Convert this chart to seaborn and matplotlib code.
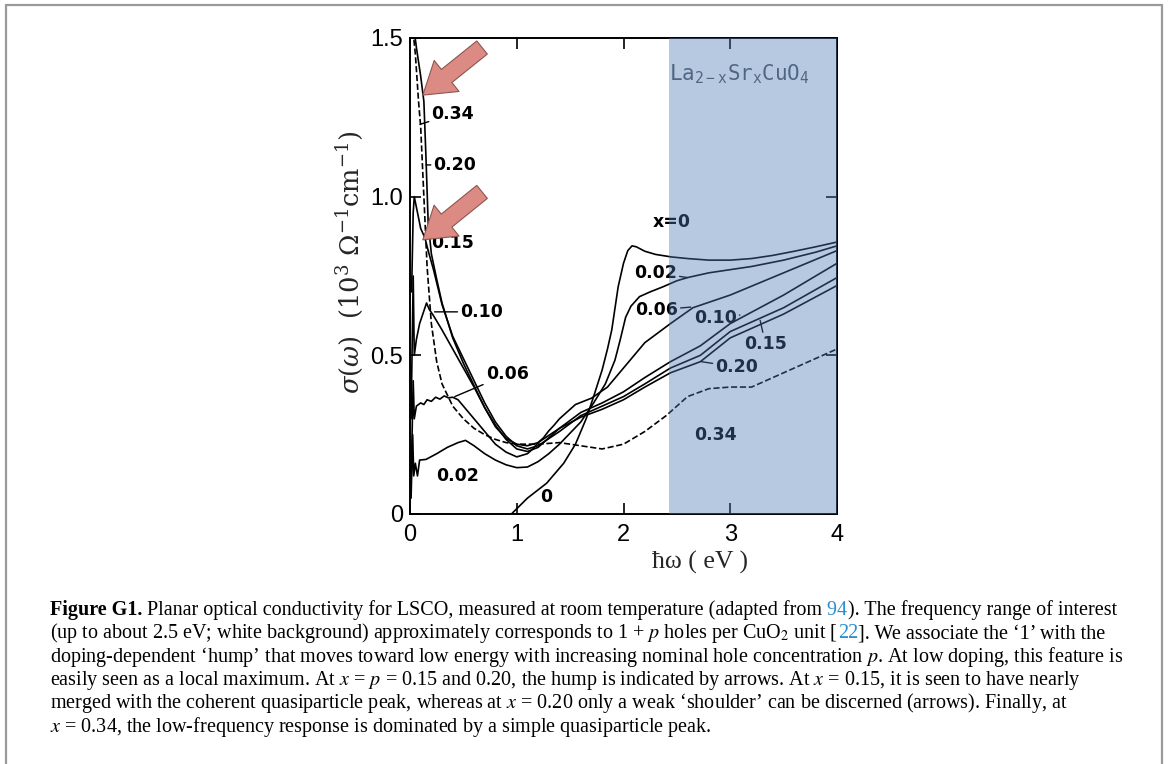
import numpy as np
import pandas as pd
import matplotlib
matplotlib.use("Agg")
import matplotlib.pyplot as plt
from matplotlib.lines import Line2D
import seaborn as sns

# ---- optical conductivity sigma(omega) of La2-xSrxCuO4, units 10^3 Ohm^-1 cm^-1 ----
E_x000 = [0.95, 1.10, 1.28, 1.44, 1.55, 1.65, 1.72, 1.80, 1.85, 1.89, 1.95, 2.00, 2.04, 2.08,
          2.12, 2.20, 2.30, 2.45, 2.60, 2.80, 3.00, 3.20, 3.40, 3.60, 3.80, 4.00]
S_x000 = [0.000, 0.050, 0.097, 0.160, 0.220, 0.300, 0.370, 0.454, 0.520, 0.580, 0.716, 0.790, 0.830, 0.845,
          0.842, 0.828, 0.818, 0.810, 0.805, 0.800, 0.800, 0.805, 0.815, 0.828, 0.842, 0.857]

E_x002 = [0.010, 0.025, 0.035, 0.050, 0.070, 0.090, 0.150, 0.250, 0.350, 0.450, 0.520, 0.600, 0.700,
          0.800, 0.900, 1.000, 1.100, 1.200, 1.300, 1.400, 1.500, 1.600, 1.720, 1.830, 1.920, 1.970,
          2.020, 2.070, 2.150, 2.250, 2.370, 2.500, 2.600, 2.800, 3.000, 3.200, 3.500, 3.800, 4.000]
S_x002 = [0.050, 0.250, 0.120, 0.160, 0.120, 0.170, 0.172, 0.190, 0.210, 0.225, 0.232, 0.215, 0.190,
          0.170, 0.155, 0.146, 0.148, 0.165, 0.190, 0.220, 0.255, 0.290, 0.350, 0.410, 0.485, 0.550,
          0.620, 0.655, 0.685, 0.700, 0.716, 0.735, 0.745, 0.760, 0.770, 0.780, 0.800, 0.825, 0.845]

E_x006 = [0.010, 0.030, 0.040, 0.060, 0.100, 0.130, 0.160, 0.200, 0.240, 0.280, 0.320, 0.360, 0.400,
          0.450, 0.500, 0.600, 0.700, 0.800, 0.900, 1.000, 1.100, 1.150, 1.200, 1.250, 1.300, 1.350,
          1.400, 1.550, 1.700, 1.850, 2.000, 2.200, 2.440, 2.650, 3.000, 3.500, 4.000]
S_x006 = [0.100, 0.420, 0.300, 0.340, 0.350, 0.345, 0.360, 0.355, 0.368, 0.362, 0.372, 0.366, 0.368,
          0.360, 0.340, 0.300, 0.260, 0.220, 0.195, 0.180, 0.190, 0.205, 0.225, 0.240, 0.262, 0.280,
          0.300, 0.345, 0.365, 0.400, 0.460, 0.540, 0.600, 0.650, 0.690, 0.760, 0.830]

E_x010 = [0.010, 0.030, 0.040, 0.060, 0.090, 0.120, 0.155, 0.180, 0.220, 0.300, 0.400, 0.500, 0.600,
          0.700, 0.800, 0.900, 1.000, 1.100, 1.200, 1.400, 1.600, 1.800, 2.000, 2.200, 2.440, 2.720,
          3.000, 3.500, 4.000]
S_x010 = [0.300, 0.750, 0.500, 0.550, 0.600, 0.630, 0.665, 0.645, 0.625, 0.580, 0.520, 0.460, 0.400,
          0.335, 0.280, 0.235, 0.205, 0.197, 0.210, 0.270, 0.320, 0.350, 0.385, 0.430, 0.480, 0.530,
          0.600, 0.690, 0.790]

E_x015 = [0.015, 0.030, 0.040, 0.070, 0.100, 0.140, 0.170, 0.220, 0.300, 0.400, 0.500, 0.600, 0.700,
          0.800, 0.900, 1.000, 1.100, 1.200, 1.400, 1.600, 1.800, 2.000, 2.200, 2.440, 2.720, 3.000,
          3.500, 4.000]
S_x015 = [0.700, 0.950, 1.000, 0.950, 0.900, 0.870, 0.830, 0.770, 0.660, 0.560, 0.490, 0.420, 0.350,
          0.290, 0.245, 0.215, 0.205, 0.215, 0.260, 0.310, 0.340, 0.370, 0.410, 0.460, 0.500, 0.575,
          0.650, 0.745]

E_x020 = [0.030, 0.060, 0.100, 0.130, 0.150, 0.170, 0.200, 0.250, 0.300, 0.400, 0.500, 0.600, 0.700,
          0.800, 0.900, 1.000, 1.100, 1.200, 1.400, 1.600, 1.800, 2.000, 2.200, 2.440, 2.720, 3.000,
          3.500, 4.000]
S_x020 = [1.550, 1.470, 1.380, 1.300, 1.120, 0.920, 0.820, 0.740, 0.665, 0.555, 0.475, 0.405, 0.335,
          0.275, 0.238, 0.220, 0.215, 0.225, 0.270, 0.305, 0.330, 0.360, 0.400, 0.445, 0.480, 0.555,
          0.630, 0.720]

E_x034 = [0.020, 0.050, 0.080, 0.100, 0.130, 0.160, 0.200, 0.250, 0.300, 0.400, 0.500, 0.600, 0.700,
          0.800, 0.900, 1.000, 1.200, 1.400, 1.600, 1.800, 2.000, 2.200, 2.400, 2.600, 2.800, 3.000,
          3.200, 3.400, 3.600, 3.800, 4.000]
S_x034 = [1.550, 1.450, 1.300, 1.220, 1.000, 0.780, 0.600, 0.480, 0.410, 0.340, 0.300, 0.270, 0.250,
          0.235, 0.225, 0.220, 0.220, 0.225, 0.215, 0.205, 0.220, 0.260, 0.310, 0.370, 0.395, 0.400,
          0.400, 0.430, 0.460, 0.490, 0.520]

dopings = ["0", "0.02", "0.06", "0.10", "0.15", "0.20", "0.34"]
energies = [E_x000, E_x002, E_x006, E_x010, E_x015, E_x020, E_x034]
sigmas = [S_x000, S_x002, S_x006, S_x010, S_x015, S_x020, S_x034]

frames = [pd.DataFrame({"E": e, "sigma": s, "x": d}) for d, e, s in zip(dopings, energies, sigmas)]
df = pd.concat(frames, ignore_index=True)

# ---- style ----
sns.set_style("ticks")
plt.rcParams.update({
    "font.family": ["Liberation Sans", "DejaVu Sans"],
    "mathtext.fontset": "stix",
    "axes.linewidth": 1.4,
    "xtick.direction": "in",
    "ytick.direction": "in",
    "xtick.top": True,
    "ytick.right": True,
    "xtick.major.size": 8,
    "ytick.major.size": 8,
    "xtick.major.width": 1.2,
    "ytick.major.width": 1.2,
})

fig = plt.figure(figsize=(11.68, 7.64), dpi=100)
ax = fig.add_axes([410 / 1168, 1 - 514 / 764, 427 / 1168, 476 / 764])

for d in dopings:
    sub = df[df["x"] == d]
    sns.lineplot(data=sub, x="E", y="sigma", ax=ax, color="black", lw=1.2,
                 linestyle="--" if d == "0.34" else "-", sort=False, estimator=None,
                 legend=False, zorder=3)

ax.set_xlim(0, 4)
ax.set_ylim(0, 1.5)
ax.set_xticks([0, 1, 2, 3, 4])
ax.set_yticks([0, 0.5, 1.0, 1.5])
ax.set_yticklabels(["0", "0.5", "1.0", "1.5"])
ax.tick_params(labelsize=17, pad=5, colors="black")
ax.tick_params(axis="x", pad=7)
ax.set_xlabel("")
ax.set_ylabel("")
for sp in ax.spines.values():
    sp.set_color("black")

# blue tint over the high-energy range
ax.axvspan(2.43, 4.0, color=(0.30, 0.475, 0.70), alpha=0.40, lw=0, zorder=10)

# curve labels; the invisible box lets the leader lines stop at the text edge
lab = dict(fontsize=12.5, fontweight="bold", family="DejaVu Sans", color="black",
           ha="center", va="center", zorder=5,
           bbox=dict(boxstyle="square,pad=0.15", fc="none", ec="none"))
lead = dict(arrowstyle="-", color="black", lw=1.0, shrinkA=0, shrinkB=0)
ax.annotate("0.34", xy=(0.094, 1.228), xytext=(0.40, 1.26), arrowprops=lead, **lab)
ax.annotate("0.20", xy=(0.150, 1.10), xytext=(0.42, 1.10), arrowprops=lead, **lab)
ax.annotate("0.15", xy=(0.17, 0.83), xytext=(0.40, 0.855), arrowprops=lead, **lab)
ax.annotate("0.10", xy=(0.23, 0.637), xytext=(0.67, 0.637), arrowprops=lead, **lab)
ax.annotate("0.06", xy=(0.42, 0.37), xytext=(0.91, 0.44), arrowprops=lead, **lab)
ax.text(0.45, 0.12, "0.02", **lab)
ax.text(1.28, 0.054, "0", **lab)
ax.text(2.45, 0.92, "x=0", **lab)
ax.annotate("0.02", xy=(2.60, 0.745), xytext=(2.30, 0.76), arrowprops=lead, **lab)
ax.annotate("0.06", xy=(2.63, 0.652), xytext=(2.31, 0.643), arrowprops=lead, **lab)
ax.annotate("0.10", xy=(3.09, 0.627), xytext=(2.86, 0.618), arrowprops=lead, **lab)
ax.annotate("0.15", xy=(3.28, 0.61), xytext=(3.33, 0.536), arrowprops=lead, **lab)
ax.annotate("0.20", xy=(2.73, 0.48), xytext=(3.06, 0.463), arrowprops=lead, **lab)
ax.text(2.86, 0.25, "0.34", **lab)

ax.text(3.09, 1.385, r"La$_{\mathtt{2-x}}$Sr$_{\mathtt{x}}$CuO$_{\mathtt{4}}$",
        family="DejaVu Sans Mono", math_fontfamily="dejavusans", fontsize=15,
        color="#505a66", ha="center", va="center", zorder=5)

# block arrows marking the hump / shoulder
blk = dict(arrowstyle="simple,head_length=1.0,head_width=1.3,tail_width=0.55",
           fc="#dc8a84", ec="#8c5650", lw=0.8, mutation_scale=22, shrinkA=0, shrinkB=0)
ax.annotate("", xy=(0.12, 1.32), xytext=(0.675, 1.47), arrowprops=blk, zorder=7)
ax.annotate("", xy=(0.12, 0.864), xytext=(0.675, 1.015), arrowprops=blk, zorder=7)

# axis titles
fig.text(350 / 1168, 1 - 262 / 764,
         r"$\sigma(\omega)$  (10$^{3}$ $\Omega^{-1}$cm$^{-1}$)",
         rotation=90, ha="center", va="center", fontsize=18.5,
         family=["DejaVu Serif"], math_fontfamily="dejavuserif")
fig.text(700 / 1168, 1 - 562 / 764, "\u0127\u03c9 ( eV )",
         ha="center", va="center", fontsize=18.5, family=["Liberation Serif", "DejaVu Serif"])

# outer frame
fc = "#9a9a9a"
fig.add_artist(Line2D([6 / 1168, 6 / 1168], [0, 1 - 5 / 764], color=fc, lw=1.6))
fig.add_artist(Line2D([1162 / 1168, 1162 / 1168], [0, 1 - 5 / 764], color=fc, lw=1.6))
fig.add_artist(Line2D([6 / 1168, 1162 / 1168], [1 - 5 / 764, 1 - 5 / 764], color=fc, lw=1.6))

# caption, drawn as runs so that citations can be coloured
renderer = fig.canvas.get_renderer()
cap = dict(fontsize=14.5, family=["Liberation Serif", "DejaVu Serif"], color="black",
           va="baseline", ha="left")
blue = "#2a8fcf"
W = 1168.0


def caption_line(ybase, runs):
    xpos = 50 / W
    for s, extra in runs:
        kw = dict(cap)
        kw.update(extra)
        t = fig.text(xpos, 1 - ybase / 764, s, **kw)
        xpos += t.get_window_extent(renderer).width / W


caption_line(615, [("Figure G1.", {"fontweight": "bold"}),
                   (" Planar optical conductivity for LSCO, measured at room temperature (adapted from", {}),
                   (" 94", {"color": blue}),
                   ("). The frequency range of interest", {})])
caption_line(638, [(r"(up to about 2.5 eV; white background) approximately corresponds to 1 + $p$ holes per CuO$_2$ unit [", {}),
                   ("22", {"color": blue}),
                   ("]. We associate the \u20181\u2019 with the", {})])
caption_line(662, [("doping-dependent \u2018hump\u2019 that moves toward low energy with increasing nominal hole concentration $p$. At low doping, this feature is", {})])
caption_line(685, [("easily seen as a local maximum. At $x$ = $p$ = 0.15 and 0.20, the hump is indicated by arrows. At $x$ = 0.15, it is seen to have nearly", {})])
caption_line(708, [("merged with the coherent quasiparticle peak, whereas at $x$ = 0.20 only a weak \u2018shoulder\u2019 can be discerned (arrows). Finally, at", {})])
caption_line(732, [("$x$ = 0.34, the low-frequency response is dominated by a simple quasiparticle peak.", {})])

fig.savefig("out.png", dpi=100)
